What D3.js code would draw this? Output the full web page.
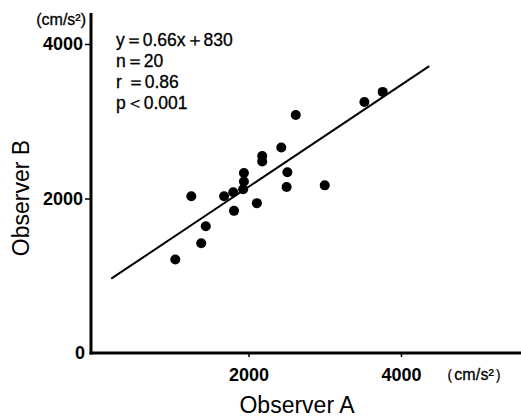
<!DOCTYPE html>
<html>
<head>
<meta charset="utf-8">
<script src="https://cdn.jsdelivr.net/npm/d3@7"></script>
<style>
body { margin: 0; background: white; }
text { font-family: "Liberation Sans", Arial, sans-serif; }
</style>
</head>
<body>
<div id="chart"></div>
<script>
// readings (cm/s2)
let obsA = [1040, 1380, 1440, 1250, 1680, 1800, 1810, 1930, 1940, 1940, 2110, 2180, 2180, 2430, 2510, 2500, 2620, 3000, 3520, 3760]
let obsB = [1210, 1420, 1640, 2030, 2030, 2080, 1840, 2120, 2220, 2330, 1940, 2480, 2550, 2660, 2340, 2150, 3080, 2170, 3250, 3380]
let xTicks = [2000, 4000]
let yTicks = [0, 2000, 4000]
let fitLine = { slope: 0.66, intercept: 830, from: 200, to: 4370 }
let statLines = ["y\uFF1D0.66x\uFF0B830", "n\uFF1D20", "r \uFF1D0.86", "p\uFF1C0.001"]

const width = 521, height = 417

const svg = d3.select("#chart").append("svg")
    .attr("width", width)
    .attr("height", height)

const x = d3.scaleLinear().domain([0, 4000]).range([96, 401])
const y = d3.scaleLinear().domain([0, 4000]).range([353, 44])

const axisX0 = 91
const axisTop = 13

// axis lines
svg.append("line")
    .attr("x1", axisX0).attr("x2", axisX0)
    .attr("y1", axisTop).attr("y2", y(0) + 1.5)
    .attr("stroke", "black").attr("stroke-width", 3)
svg.append("line")
    .attr("x1", axisX0 - 1.5).attr("x2", width)
    .attr("y1", y(0)).attr("y2", y(0))
    .attr("stroke", "black").attr("stroke-width", 3)

// y ticks
const yAxis = svg.append("g")
    .attr("transform", `translate(${axisX0},0)`)
    .call(d3.axisLeft(y).tickValues(yTicks).tickSize(6).tickPadding(2).tickFormat(d3.format("d")))
yAxis.select(".domain").remove()
yAxis.selectAll(".tick line").attr("stroke-width", 1.5)
    .filter(d => d == 0).remove()
yAxis.selectAll(".tick text")
    .attr("font-family", "'Liberation Sans', Arial, sans-serif")
    .attr("font-size", 18).attr("font-weight", "bold")
    .attr("fill", "black")
    .attr("x", d => d == 0 ? -6 : -8)

// x ticks
const xAxis = svg.append("g")
    .attr("transform", `translate(0,${y(0)})`)
    .call(d3.axisBottom(x).tickValues(xTicks).tickSize(4).tickPadding(11).tickFormat(d3.format("d")))
xAxis.select(".domain").remove()
xAxis.selectAll(".tick line").attr("stroke-width", 1.5)
xAxis.selectAll(".tick text")
    .attr("font-family", "'Liberation Sans', Arial, sans-serif")
    .attr("font-size", 18).attr("font-weight", "bold")
    .attr("fill", "black")

// unit labels
svg.append("text")
    .attr("x", 86).attr("y", 25)
    .attr("text-anchor", "end")
    .attr("font-size", 16)
    .attr("stroke", "black").attr("stroke-width", 0.3)
    .text("(cm/s\u00B2)")
svg.append("text")
    .attr("x", 438).attr("y", 380)
    .attr("font-size", 16)
    .attr("textLength", 72)
    .attr("stroke", "black").attr("stroke-width", 0.3)
    .text("\uFF08cm/s\u00B2\uFF09")

// axis titles
svg.append("text")
    .attr("x", 297).attr("y", 413)
    .attr("text-anchor", "middle")
    .attr("font-size", 23)
    .text("Observer A")
svg.append("text")
    .attr("transform", "translate(29,198) rotate(-90)")
    .attr("text-anchor", "middle")
    .attr("font-size", 23)
    .text("Observer B")

// regression line
svg.append("line")
    .attr("x1", x(fitLine.from)).attr("y1", y(fitLine.slope * fitLine.from + fitLine.intercept))
    .attr("x2", x(fitLine.to)).attr("y2", y(fitLine.slope * fitLine.to + fitLine.intercept))
    .attr("stroke", "black").attr("stroke-width", 2)

// points
svg.append("g").selectAll("circle")
    .data(obsA.map((a, i) => ({ a: a, b: obsB[i] })))
    .join("circle")
    .attr("cx", d => x(d.a))
    .attr("cy", d => y(d.b))
    .attr("r", 5)
    .attr("fill", "black")

// stats
svg.append("g").selectAll("text")
    .data(statLines)
    .join("text")
    .attr("x", 116)
    .attr("y", (d, i) => 46 + i * 21)
    .attr("font-size", 17.5)
    .attr("stroke", "black").attr("stroke-width", 0.3)
    .text(d => d)
</script>
</body>
</html>
